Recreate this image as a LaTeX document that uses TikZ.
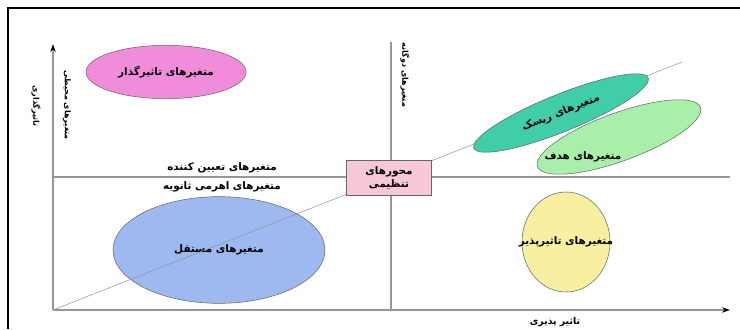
\documentclass[tikz,border=0pt]{standalone}
\usepackage{fontspec}
\usepackage{xcolor}
\usetikzlibrary{arrows.meta}
\usetikzlibrary{positioning}
\usetikzlibrary{shapes.geometric}
\newfontfamily\farsi[Script=Arabic]{DejaVu Sans}
\TeXXeTstate=1
\definecolor{orchidpink}{RGB}{240,140,218}
\definecolor{riskteal}{RGB}{64,206,168}
\definecolor{goalgreen}{RGB}{168,240,170}
\definecolor{freeblue}{RGB}{158,184,240}
\definecolor{paleyellow}{RGB}{248,240,160}
\definecolor{boxpink}{RGB}{248,200,214}
\definecolor{axisgray}{RGB}{150,150,150}
\tikzset{%
  ellcol/.style={ellipse,draw=gray!80!black,thin,inner sep=0pt},
  axisline/.style={draw=axisgray,thick},
  lbl/.style={font=\farsi\bfseries\fontsize{7.8}{9.5}\selectfont,inner sep=1pt},
  lblsmall/.style={font=\farsi\bfseries\fontsize{6}{7}\selectfont,inner sep=1pt}
}
\newcommand{\fa}[1]{\beginR #1\endR}

\begin{document}
\begin{tikzpicture}[x=0.75pt,y=-0.75pt]
        \useasboundingbox (0,0) rectangle (740,329);
        % frame
        \draw[line width=2.2pt] (8,329) -- (8,8) -- (740,8);

        % axes
        \coordinate (orig) at (53,310);
        \coordinate (ytop) at (53,44);
        \coordinate (xend) at (730,310);
        \coordinate (midtop) at (391,42);
        \coordinate (midbot) at (391,310);
        \coordinate (hleft) at (53,177);
        \coordinate (hright) at (730,177);
        \coordinate (diagend) at (682,62);
        \coordinate (goalc) at (619,137);
        \draw[axisline,-{Stealth[black,length=6pt,width=4pt]}] (orig) -- (ytop);
        \draw[axisline,-{Stealth[black,length=6pt,width=4pt]}] (orig) -- (xend);
        \draw[axisline] (midbot) -- (midtop);
        \fill[axisgray] (midbot) circle (1.5);
        \draw[axisline,line width=1.2pt] (hleft) -- (hright);

        % clusters
        \node[ellcol,fill=orchidpink,minimum width=120pt,minimum height=40pt,lbl] (infl) at (166,72) {\fa{متغیرهای تاثیرگذار}};
        \node[ellcol,fill=freeblue,minimum width=159pt,minimum height=80pt,lbl] (auto) at (219,250) {\fa{متغیرهای مستقل}};
        \draw[draw=axisgray] (orig) -- (diagend);
        \node[ellcol,fill=paleyellow,minimum width=66pt,minimum height=75pt] (depd) at (566,242) {};
        \node[lbl] (depdtxt) at (depd.center) {\fa{متغیرهای تاثیرپذیر}};
        \draw[draw=gray!80!black,thin,fill=goalgreen,rotate around={20:(goalc)}] (goalc) ellipse (65pt and 18pt);
        \node[lbl] (goaltxt) at (583,157) {\fa{متغیرهای هدف}};
        \node[ellcol,fill=riskteal,minimum width=141pt,minimum height=28pt,rotate=22,lbl] (risk) at (561,113) {\fa{متغیرهای ریسک}};

        % regulating box
        \node[draw=gray!80!black,fill=boxpink,minimum width=64pt,minimum height=26pt,align=center,lbl] (reg) at (389,178) {\fa{محورهای}\\\fa{تنظیمی}};

        % texts
        \node[lbl,anchor=south] (detm) at (222,175) {\fa{متغیرهای تعیین کننده}};
        \node[lbl,anchor=north] (lever) at (222,180) {\fa{متغیرهای اهرمی ثانویه}};
        \node[lblsmall,rotate=-90] (yname) at (36,106) {\fa{تاثیرگذاری}};
        \node[lblsmall,rotate=-90] (envr) at (67,105) {\fa{متغیرهای محیطی}};
        \node[lblsmall,rotate=-90] (relay) at (405,75) {\fa{متغیرهای دوگانه}};
        \node[lblsmall,font=\farsi\bfseries\fontsize{7}{8}\selectfont] (xname) at (555,322) {\fa{تاثیر پذیری}};
      \end{tikzpicture}
\end{document}
